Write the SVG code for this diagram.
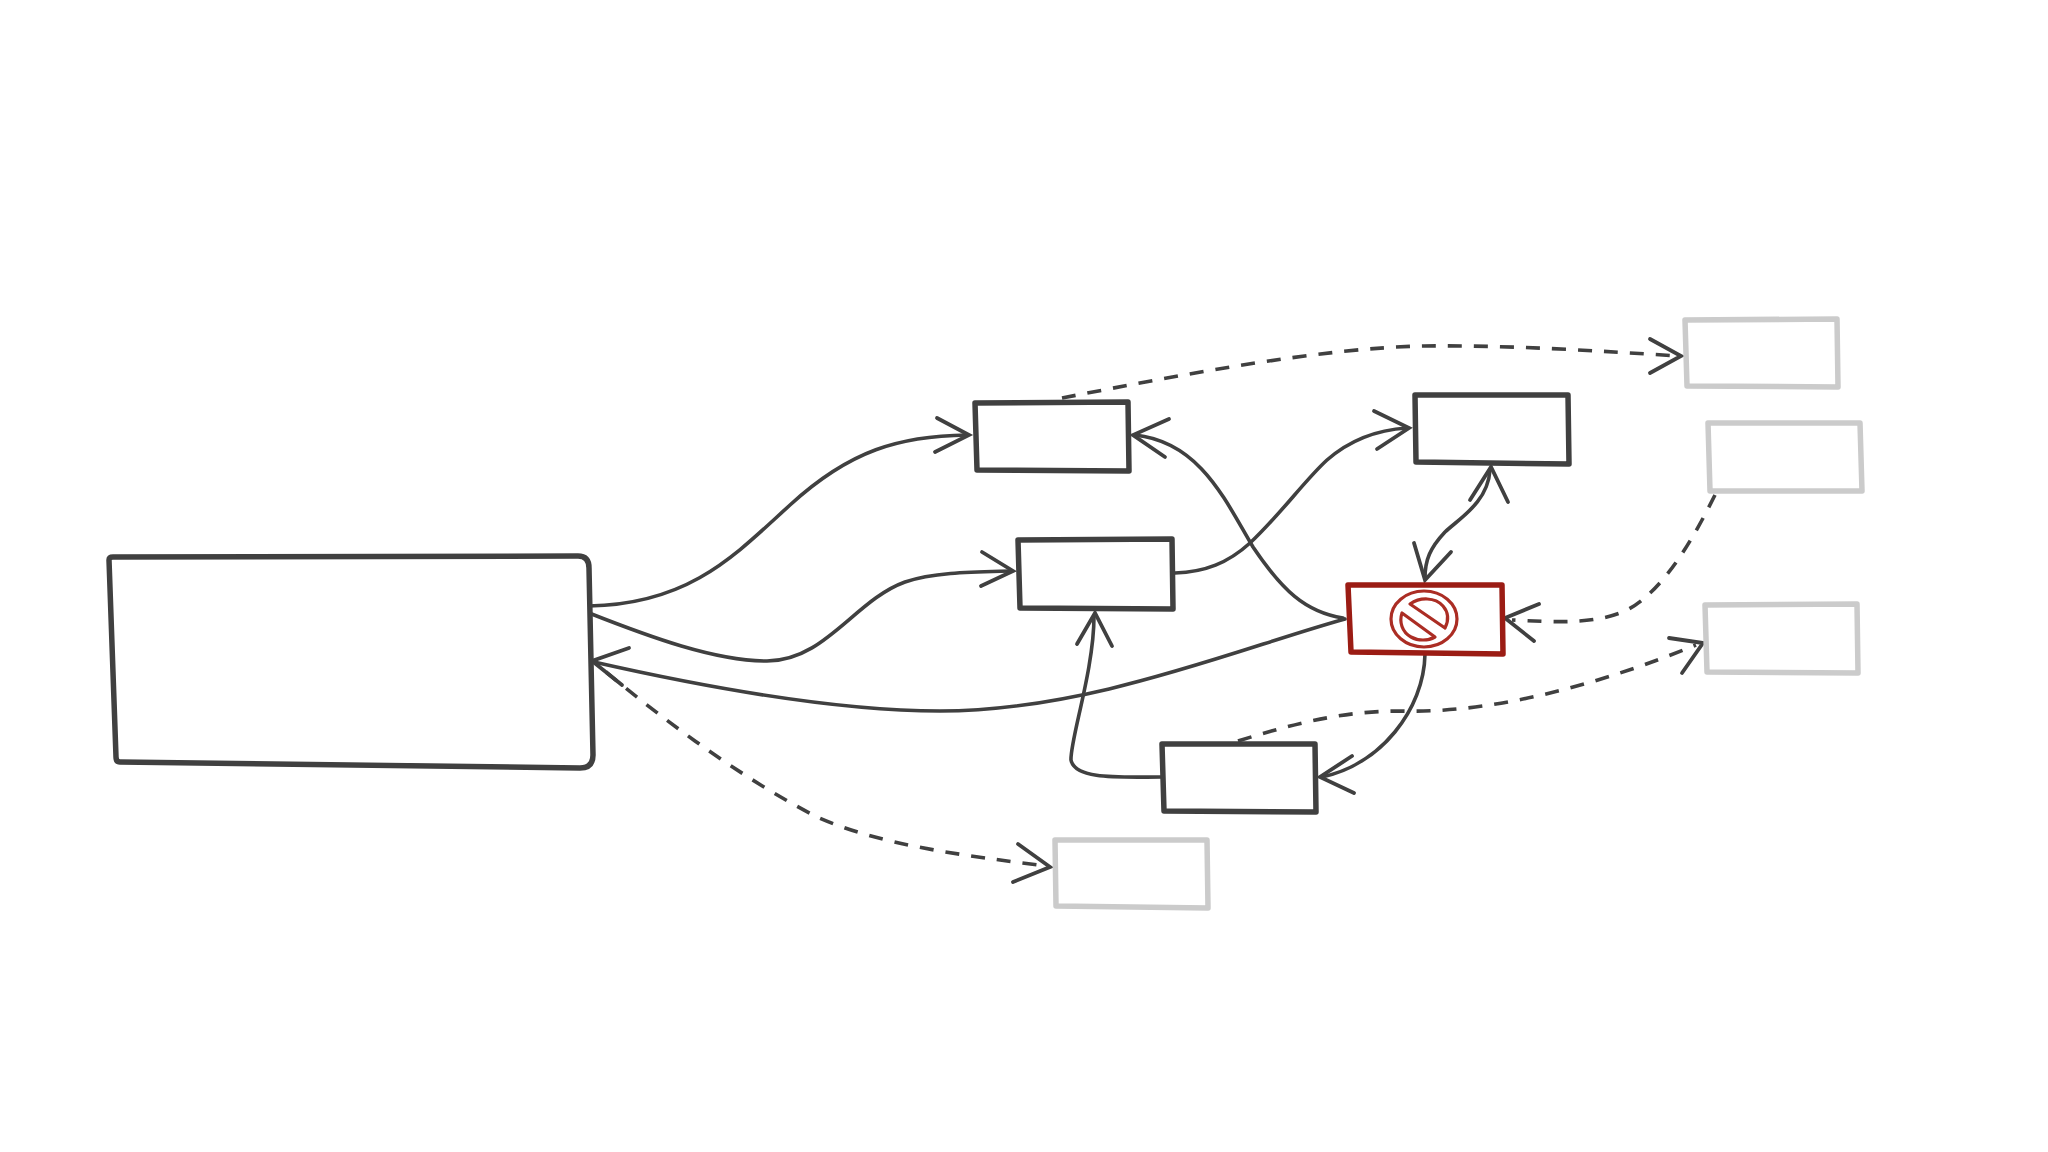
<svg xmlns="http://www.w3.org/2000/svg" width="2048" height="1152" viewBox="0 0 2048 1152">
<style>
.n{fill:#fff;stroke:#404040;stroke-width:5.5;stroke-linejoin:round}
.g{fill:#fff;stroke:#cbcbcb;stroke-width:5.5;stroke-linejoin:round}
.r{fill:#fff;stroke:#9b1c14;stroke-width:5.5;stroke-linejoin:round}
.i{fill:none;stroke:#ab2d24;stroke-width:3.2;stroke-linejoin:round}
.c{fill:none;stroke:#404040;stroke-width:3.6;stroke-linecap:round}
.d{stroke-dasharray:14 12;stroke-linecap:butt}
.h{fill:none;stroke:#404040;stroke-width:3.8;stroke-linecap:round;stroke-linejoin:miter}
</style>
<g id="connectors">
<path class="c" d="M589 606C690 604 735 555 790 505C850 450 900 436 967 435"/>
<path class="h" d="M937 418L969 435L935 452"/>
<path class="c" d="M589 613C650 637 715 661 767 661C825 661 855 600 905 582C935 572 975 572 1011 571"/>
<path class="h" d="M982 552L1013 571L981 586"/>
<path class="c" d="M1345 619C1240 648 1090 711 940 711C830 711 700 686 594 662"/>
<path class="h" d="M629 648L592 661L622 685"/>
<path class="c d" d="M606 672C670 725 745 780 817 817C880 845 960 855 1046 866"/>
<path class="h" d="M1018 844L1050 867L1013 882"/>
<path class="c d" d="M1062 398C1180 375 1320 348 1424 346C1510 345 1600 351 1678 356"/>
<path class="h" d="M1650 339L1681 356L1650 373"/>
<path class="c" d="M1175 573C1205 572 1228 563 1250 543C1280 515 1305 480 1327 460C1350 440 1375 430 1407 428"/>
<path class="h" d="M1374 411L1409 428L1377 449"/>
<path class="c" d="M1343 618C1305 612 1282 590 1253 547C1225 500 1200 442 1135 435"/>
<path class="h" d="M1169 419L1133 435L1165 457"/>
<path class="c" d="M1425 578C1425 560 1430 548 1445 532C1460 518 1488 502 1490 470"/>
<path class="h" d="M1414 543L1425 580L1451 552"/>
<path class="h" d="M1470 500L1491 467L1508 502"/>
<path class="c" d="M1425 654C1424 710 1380 765 1322 777"/>
<path class="h" d="M1352 756L1320 777L1354 793"/>
<path class="c" d="M1161 777C1120 777 1075 780 1071 760C1070 740 1094 670 1094 616"/>
<path class="h" d="M1077 644L1095 613L1112 646"/>
<path class="c d" d="M1715 495C1695 535 1665 590 1627 610C1595 625 1555 622 1512 620"/>
<path class="h" d="M1539 604L1505 618L1534 641"/>
<path class="c d" d="M1238 741C1290 725 1340 711 1400 711C1500 714 1610 680 1696 645"/>
<path class="h" d="M1669 638L1703 643L1682 673"/>
</g>
<g id="main"><path class="n" d="M113 557L578 556Q589 556 589 568L593 755Q593 768 580 768L120 762Q116 762 116 757L109 560Q109 557 113 557Z"/></g>
<g id="n1"><path class="n" d="M975 403L1128 402L1129 471L977 470Z"/></g>
<g id="n2"><path class="n" d="M1018 540L1172 539L1173 609L1020 608Z"/></g>
<g id="n3"><path class="n" d="M1415 395L1568 395L1569 464L1416 462Z"/></g>
<g id="n4"><path class="n" d="M1162 744L1315 744L1316 812L1164 811Z"/></g>
<g id="blocked">
<path class="r" d="M1348 585L1502 585L1503 654L1351 652Z"/>
<ellipse class="i" cx="1424" cy="619" rx="33" ry="28"/>
<path class="i" d="M1410 604C1420 597 1435 597 1443 606C1449 613 1449 620 1445 628Z"/>
<path class="i" d="M1402 613C1399 622 1402 632 1411 637C1418 641 1428 641 1435 637Z"/>
</g>
<g id="ext1"><path class="g" d="M1685 320L1837 319L1838 387L1687 386Z"/></g>
<g id="ext2"><path class="g" d="M1708 423L1860 423L1862 491L1710 491Z"/></g>
<g id="ext3"><path class="g" d="M1705 605L1857 604L1858 673L1707 672Z"/></g>
<g id="ext4"><path class="g" d="M1055 840L1207 840L1208 908L1056 906Z"/></g>
</svg>
